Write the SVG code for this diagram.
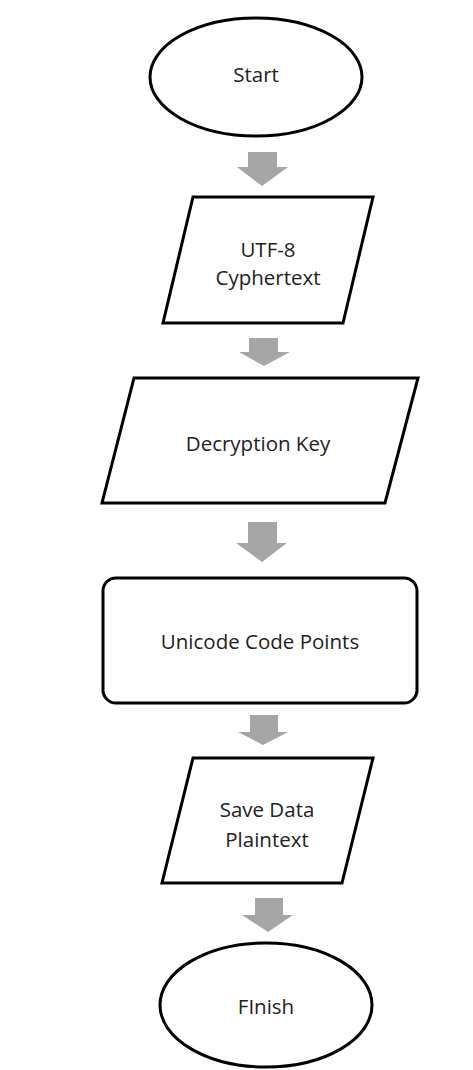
<svg xmlns="http://www.w3.org/2000/svg" width="473" height="1070" viewBox="0 0 473 1070">
<style>
.shape{fill:#fff;stroke:#000;stroke-width:3}
.lbl{font-family:"Open Sans","Liberation Sans",sans-serif;font-size:20.5px;fill:#222;text-anchor:middle}
.arr{fill:#a6a6a6}
</style>
<rect width="473" height="1070" fill="#fff"/>
<g id="connectors">
<polygon class="arr" points="248,152 277,152 277,167 288,167 262,186 237,167 248,167"/>
<polygon class="arr" points="249,338 278,338 278,352 290,352 264,366 239,352 249,352"/>
<polygon class="arr" points="248,522 277,522 277,543 287,543 262,562 236,543 248,543"/>
<polygon class="arr" points="250,715 278,715 278,732 288,732 263,745 238,732 250,732"/>
<polygon class="arr" points="255,898 283,898 283,915 293,915 268,932 242,915 255,915"/>
</g>
<g id="start">
<ellipse class="shape" cx="256" cy="77" rx="106" ry="59"/>
<text class="lbl" x="256" y="82">Start</text>
</g>
<g id="utf8">
<polygon class="shape" points="193,197 373,197 343,323 163,323"/>
<text class="lbl" x="268" y="257">UTF-8</text>
<text class="lbl" x="268" y="285">Cyphertext</text>
</g>
<g id="key">
<polygon class="shape" points="134,378 418,378 385,503 102,503"/>
<text class="lbl" x="258" y="451">Decryption Key</text>
</g>
<g id="unicode">
<rect class="shape" x="103" y="578" width="314" height="125" rx="13"/>
<text class="lbl" x="260" y="649">Unicode Code Points</text>
</g>
<g id="save">
<polygon class="shape" points="193,758 373,758 342,883 162,883"/>
<text class="lbl" x="267" y="817">Save Data</text>
<text class="lbl" x="267" y="847">Plaintext</text>
</g>
<g id="finish">
<ellipse class="shape" cx="266" cy="1005" rx="106" ry="62"/>
<text class="lbl" x="266" y="1014">FInish</text>
</g>
</svg>
